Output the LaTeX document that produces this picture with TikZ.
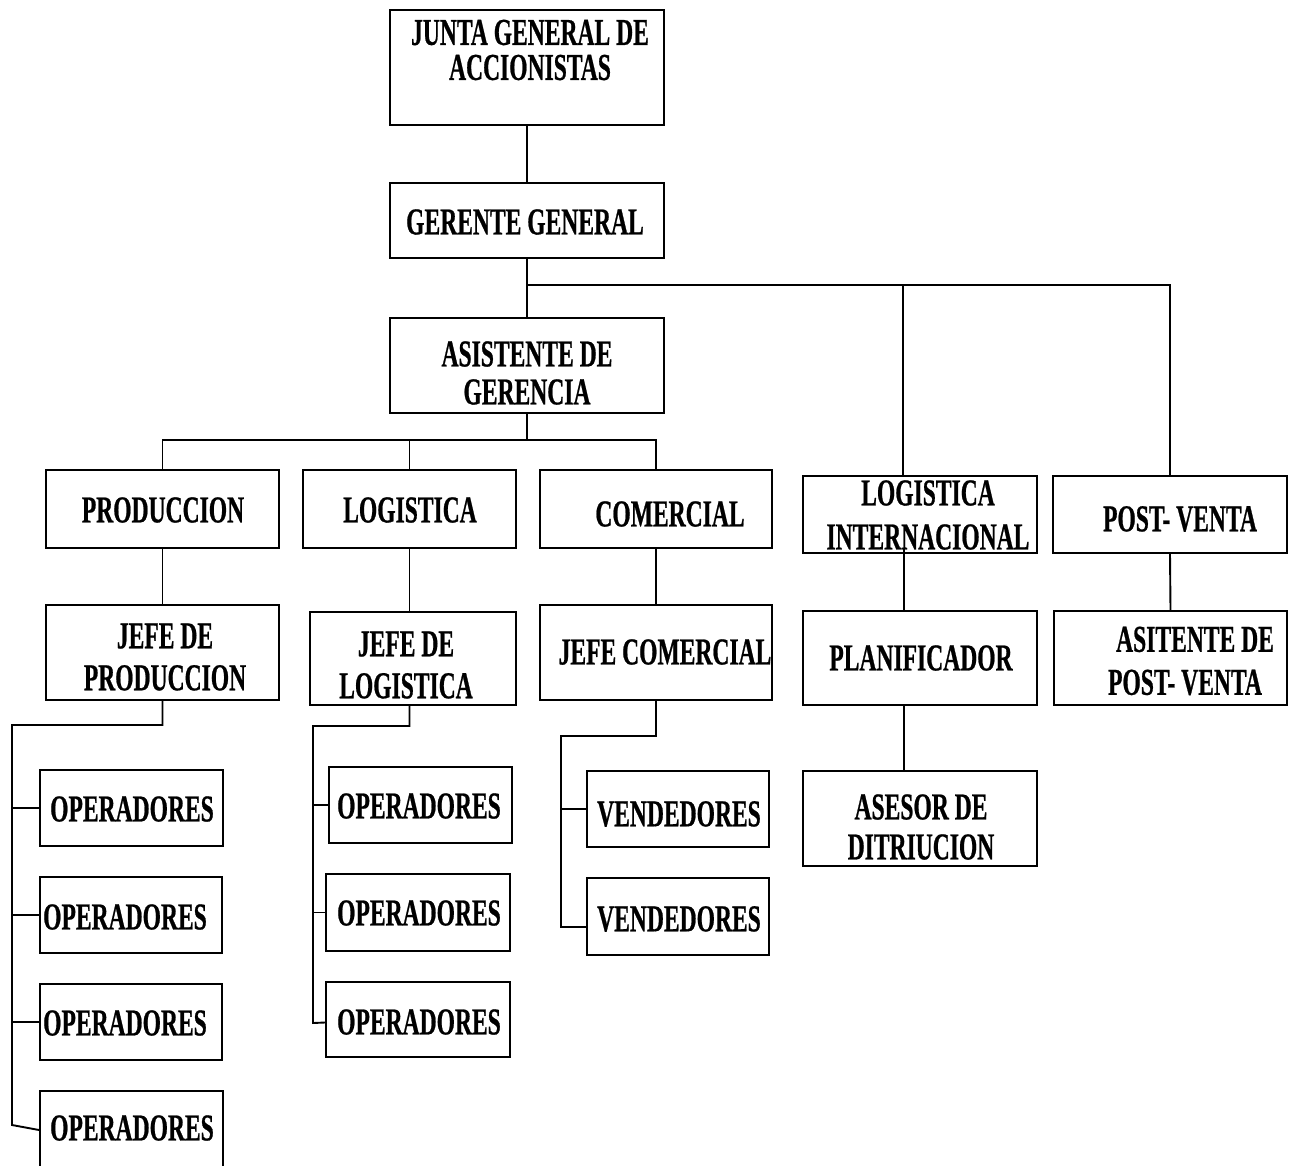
\documentclass[tikz,border=0pt]{standalone}
\usepackage{fontspec}
\newfontfamily\orgfont{Liberation Serif}[FakeStretch=0.62, FakeBold=0.6]
\begin{document}
\begin{tikzpicture}[x=1pt,y=-1pt,
  box/.style={draw, line width=1.9pt, inner sep=0pt, rectangle},
  conn/.style={line width=1.9pt, line join=miter},
  lbl/.style={inner sep=0pt, align=center,
    font=\orgfont\bfseries\fontsize{38}{40}\selectfont}]
\useasboundingbox (0,0) rectangle (1293,1165);

% box: name, left, top, right, bottom
\newcommand\orgbox[5]{%
  \node[box, minimum width={(#4-#2)*1pt}, minimum height={(#5-#3)*1pt}]
    (#1) at ({(#2+#4)/2},{(#3+#5)/2}) {};}

% ---- boxes
\orgbox{junta}{390}{10}{664}{125}
\orgbox{gerente}{390}{183}{664}{258}
\orgbox{asist}{390}{318}{664}{413}
\orgbox{prod}{46}{470}{279}{548}
\orgbox{logi}{303}{470}{516}{548}
\orgbox{comer}{540}{470}{772}{548}
\orgbox{logint}{803}{476}{1037}{553}
\orgbox{post}{1053}{476}{1287}{553}
\orgbox{jprod}{46}{605}{279}{700}
\orgbox{jlog}{310}{612}{516}{705}
\orgbox{jcom}{540}{605}{772}{700}
\orgbox{plan}{803}{611}{1037}{705}
\orgbox{apost}{1054}{611}{1287}{705}
\orgbox{op1}{40}{770}{223}{846}
\orgbox{op2}{40}{877}{222}{953}
\orgbox{op3}{40}{984}{222}{1060}
\orgbox{op4}{40}{1091}{223}{1175}
\orgbox{lo1}{329}{767}{512}{843}
\orgbox{lo2}{326}{874}{510}{951}
\orgbox{lo3}{326}{982}{510}{1057}
\orgbox{v1}{587}{771}{769}{847}
\orgbox{v2}{587}{878}{769}{955}
\orgbox{ases}{803}{771}{1037}{866}

% ---- labels
\node[lbl] (t-junta)   at (530,50)   {JUNTA GENERAL DE\\[-5pt]ACCIONISTAS};
\node[lbl] (t-gerente) at (525,222)  {GERENTE GENERAL};
\node[lbl] (t-asist)   at (527,373)  {ASISTENTE DE\\[-2pt]GERENCIA};
\node[lbl] (t-prod)    at (163,510)  {PRODUCCION};
\node[lbl] (t-logi)    at (410,510)  {LOGISTICA};
\node[lbl] (t-comer)   at (670,514)  {COMERCIAL};
\node[lbl] (t-logint)  at (928,515)  {LOGISTICA\\[4pt]INTERNACIONAL};
\node[lbl] (t-post)    at (1180,519) {POST- VENTA};
\node[lbl] (t-jprod)   at (165,657)  {JEFE DE\\[2pt]PRODUCCION};
\node[lbl] (t-jlog)    at (406,665)  {JEFE DE\\[2pt]LOGISTICA};
\node[lbl] (t-jcom)    at (665,652)  {JEFE COMERCIAL};
\node[lbl] (t-plan)    at (921,658)  {PLANIFICADOR};
\node[lbl] (t-apost)   at (1185,661) {\hspace*{20pt}ASITENTE DE\\[3pt]POST- VENTA};
\node[lbl] (t-op1)     at (132,809)  {OPERADORES};
\node[lbl] (t-op2)     at (125,917)  {OPERADORES};
\node[lbl] (t-op3)     at (125,1023) {OPERADORES};
\node[lbl] (t-op4)     at (132,1128) {OPERADORES};
\node[lbl] (t-lo1)     at (419,806)  {OPERADORES};
\node[lbl] (t-lo2)     at (419,913)  {OPERADORES};
\node[lbl] (t-lo3)     at (419,1022) {OPERADORES};
\node[lbl] (t-v1)      at (679,814)  {VENDEDORES};
\node[lbl] (t-v2)      at (679,919)  {VENDEDORES};
\node[lbl] (t-ases)    at (921,827)  {ASESOR DE\\DITRIUCION};

% ---- junction points
\coordinate (gA) at (527,285);
\coordinate (gL) at (903,285);
\coordinate (aB) at (527,440);
\coordinate (liT) at (904,548);
\coordinate (pA) at (12,725);
\coordinate (pB) at (12,1125);
\coordinate (lA) at (313,726);
\coordinate (lB) at (313,1023);
\coordinate (cA) at (561,736);
\coordinate (cB) at (561,927);

% ---- top of the chart
\draw[conn] (junta.south) -- (gerente.north);
\draw[conn] (gerente.south) -- (asist.north);
\draw[conn] (gA) -| (post.north);
\draw[conn] (gL) -- (gL |- logint.north);

% ---- departments under the assistant
\draw[conn] (asist.south) -- (aB);
\draw[conn] (prod.north) |- (comer.north |- aB) -- (comer.north);
\draw[conn] (logi.north) -- (logi.north |- aB);

% ---- department heads
\draw[conn] (prod.south) -- (jprod.north);
\draw[conn] (logi.south) -- (logi.south |- jlog.north);
\draw[conn] (comer.south) -- (jcom.north);
\draw[conn] (liT) -- (liT |- plan.north);
\draw[conn] (plan.south -| liT) -- (ases.north -| liT);
\draw[conn] (post.south) -- (apost.north);

% ---- production staff
\draw[conn] (jprod.south) |- (pA) -- (pB) -- (op4.west |- 0,1130);
\draw[conn] (pA |- op1.west) -- (op1.west);
\draw[conn] (pA |- op2.west) -- (op2.west);
\draw[conn] (pA |- op3.west) -- (op3.west);

% ---- logistics staff
\draw[conn] (jlog.south -| logi.south) |- (lA) -- (lB) -- ([yshift=-3pt]lo3.west);
\draw[conn] (lA |- lo1.west) -- (lo1.west);
\draw[conn] (lA |- lo2.west) -- (lo2.west);

% ---- sales staff
\draw[conn] (jcom.south) |- (cA) -- (cB) -- (cB -| v2.west);
\draw[conn] (cA |- v1.west) -- (v1.west);
\end{tikzpicture}
\end{document}
